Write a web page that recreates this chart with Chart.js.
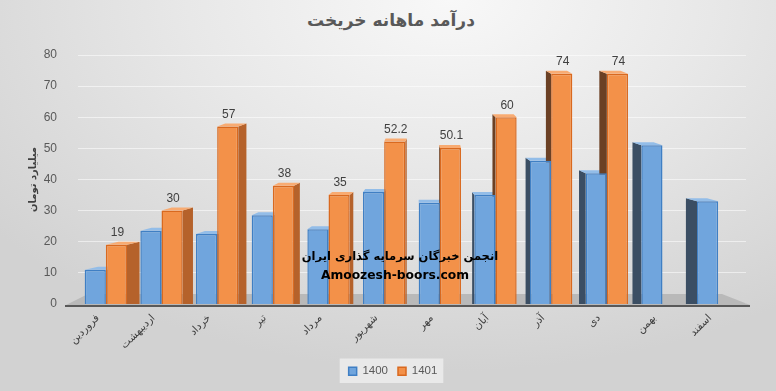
<!DOCTYPE html>
<html>
<head>
<meta charset="utf-8">
<script src="https://cdn.jsdelivr.net/npm/chart.js@4.4.0/dist/chart.umd.min.js"></script>
<style>
  html, body { margin: 0; padding: 0; }
  body {
    width: 776px; height: 391px; overflow: hidden; position: relative;
    background: radial-gradient(ellipse 75% 95% at 58% 0%, #f8f8f8 0%, #e8e8e8 45%, #d2d2d2 100%);
    font-family: 'Liberation Sans', 'DejaVu Sans', sans-serif;
  }
  #chartContainer { position: absolute; left: 0; top: 0; width: 776px; height: 391px; }
  .title {
    position: absolute; left: 0; top: 10px; width: 782px; text-align: center;
    font: bold 17px 'DejaVu Sans', sans-serif; color: #595959;
  }
  .mark {
    position: absolute; left: 0; width: 800px; text-align: center;
    font-weight: bold; color: #000;
    font-family: 'DejaVu Sans', 'Liberation Sans', sans-serif;
  }
</style>
</head>
<body>
<div class="title" dir="rtl">درآمد ماهانه خریخت</div>
<div id="chartContainer"><canvas id="chart" width="776" height="391"></canvas></div>
<div class="mark" style="top:249px; font-size:11.5px" dir="rtl">انجمن خبرگان سرمایه گذاری ایران</div>
<div class="mark" style="top:268px; font-size:12.3px; width:790px">Amoozesh-boors.com</div>
<script>
const months = ['فروردین', 'اردیبهشت', 'خرداد', 'تیر', 'مرداد', 'شهریور', 'مهر', 'آبان', 'آذر', 'دی', 'بهمن', 'اسفند']
const income1400 = [11, 23.5, 22.5, 28.5, 24, 36, 32.5, 35, 46, 42, 51, 33]
const income1401 = [19, 30, 57, 38, 35, 52.2, 50.1, 60, 74, 74, null, null]
const seriesNames = ['1400', '1401']

const frontColors = ['#70a5dd', '#f39149']
const borderColors = ['#3f7fc4', '#d9691f']
const sideLight = ['#4a78a8', '#b5622b']
const sideDark = ['#3b4e63', '#6b4024']
const topColors = ['#93bde8', '#f8ab72']

// fake 3d faces, drawn from the bar elements before the fronts
const depthPlugin = {
    id: 'depth',
    afterLayout(chart) {
        // legend sits a little right of and below centre in the original
        chart.legend.left += 20
        chart.legend.right += 20
        chart.legend.top += 4
        chart.legend.bottom += 4
    },
    beforeDraw(chart) {
        const ctx = chart.ctx
        const boxes = chart.legend.legendHitBoxes
        if (boxes && boxes.length) {
            const l = boxes[0].left - 9
            const r = boxes[boxes.length - 1].left + boxes[boxes.length - 1].width + 6
            const t = boxes[0].top - 7
            ctx.save()
            ctx.fillStyle = 'rgba(235,235,235,0.9)'
            ctx.fillRect(l, t, r - l, boxes[0].height + 13)
            ctx.restore()
        }
    },
    beforeDatasetsDraw(chart) {
        const ctx = chart.ctx
        const area = chart.chartArea
        const vanishX = 430

        ctx.save()
        // floor
        ctx.fillStyle = '#b9b9b9'
        ctx.beginPath()
        ctx.moveTo(area.left - 12, area.bottom + 1)
        ctx.lineTo(area.left + 10, area.bottom - 10)
        ctx.lineTo(area.right - 24, area.bottom - 10)
        ctx.lineTo(area.right + 4, area.bottom + 1)
        ctx.closePath()
        ctx.fill()
        ctx.strokeStyle = '#595959'
        ctx.lineWidth = 2
        ctx.beginPath()
        ctx.moveTo(area.left - 13, area.bottom + 2)
        ctx.lineTo(area.right + 4, area.bottom + 2)
        ctx.stroke()

        chart.data.datasets.forEach((ds, i) => {
            const meta = chart.getDatasetMeta(i)
            meta.data.forEach((bar, j) => {
                if (ds.data[j] == null) return
                const p = bar.getProps(['x', 'y', 'base', 'width'], true)
                const left = p.x - p.width / 2
                const right = p.x + p.width / 2
                const dx = (vanishX - p.x) * 0.04
                const dy = -3
                const edge = dx > 0 ? right : left
                ctx.fillStyle = dx > 0 ? sideLight[i] : sideDark[i]
                ctx.beginPath()
                ctx.moveTo(edge, p.y)
                ctx.lineTo(edge + dx, p.y + dy)
                ctx.lineTo(edge + dx, p.base - 4)
                ctx.lineTo(edge, p.base - 4)
                ctx.closePath()
                ctx.fill()
                ctx.fillStyle = topColors[i]
                ctx.beginPath()
                ctx.moveTo(left, p.y)
                ctx.lineTo(right, p.y)
                ctx.lineTo(right + dx, p.y + dy)
                ctx.lineTo(left + dx, p.y + dy)
                ctx.closePath()
                ctx.fill()
            })
        })
        ctx.restore()
    },
    afterDatasetsDraw(chart) {
        const ctx = chart.ctx
        ctx.save()
        ctx.font = '12px "Liberation Sans", sans-serif'
        ctx.fillStyle = '#404040'
        ctx.textAlign = 'center'
        ctx.textBaseline = 'bottom'
        const meta = chart.getDatasetMeta(1)
        meta.data.forEach((bar, j) => {
            const v = income1401[j]
            if (v == null) return
            ctx.fillText(String(v), bar.x + 1, bar.y - 6)
        })
        ctx.restore()
    }
}

const ctx = document.getElementById('chart').getContext('2d')

new Chart(ctx, {
    type: 'bar',
    data: {
        labels: months,
        datasets: [{
            label: seriesNames[0],
            data: income1400,
            backgroundColor: frontColors[0],
            borderColor: borderColors[0],
            borderWidth: 1.5,
            categoryPercentage: 0.76,
            barPercentage: 1.0,
            base: -1.3
        }, {
            label: seriesNames[1],
            data: income1401,
            backgroundColor: frontColors[1],
            borderColor: borderColors[1],
            borderWidth: 1.5,
            categoryPercentage: 0.76,
            barPercentage: 1.0,
            base: -1.3
        }]
    },
    options: {
        responsive: false,
        animation: false,
        layout: { autoPadding: false, padding: { top: 55, left: 0, right: 30, bottom: 8 } },
        plugins: {
            legend: {
                position: 'bottom',
                labels: {
                    color: '#595959',
                    boxWidth: 8,
                    boxHeight: 8,
                    padding: 10,
                    font: { size: 11.5, family: '"Liberation Sans", sans-serif' }
                }
            },
            tooltip: { enabled: false }
        },
        scales: {
            x: {
                grid: { display: false },
                border: { display: false },
                ticks: {
                    color: '#404040',
                    minRotation: 45,
                    maxRotation: 45,
                    labelOffset: -8,
                    padding: 0,
                    font: { size: 10.5, family: '"DejaVu Sans", sans-serif' }
                }
            },
            y: {
                min: 0,
                max: 80,
                afterFit(scale) { scale.width = 78 },
                ticks: {
                    stepSize: 10,
                    color: '#595959',
                    padding: 21,
                    font: { size: 12, family: '"Liberation Sans", sans-serif' }
                },
                grid: { color: 'rgba(255,255,255,0.55)', drawTicks: false },
                border: { display: false },
                title: {
                    display: true,
                    text: 'میلیارد تومان',
                    color: '#404040',
                    padding: { top: 27, bottom: 4 },
                    font: { size: 10, weight: 'bold', family: '"DejaVu Sans", sans-serif' }
                }
            }
        }
    },
    plugins: [depthPlugin]
})
</script>
</body>
</html>
